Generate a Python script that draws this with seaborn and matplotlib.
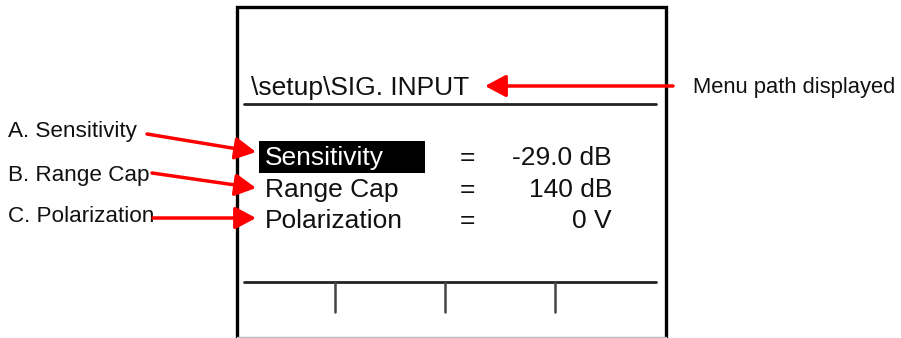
import matplotlib
matplotlib.use("Agg")
import matplotlib.pyplot as plt
from matplotlib.patches import Rectangle
import seaborn as sns

# screen content
menu_path = "\\setup\\SIG. INPUT"
param_names = ["Sensitivity", "Range Cap", "Polarization"]
param_values = ["-29.0 dB", "140 dB", "0 V"]
callout_labels = ["A. Sensitivity", "B. Range Cap", "C. Polarization"]
path_label = "Menu path displayed"
softkey_count = 4

sns.set_theme(style="white")
plt.rcParams["font.family"] = ["Liberation Sans", "DejaVu Sans"]

W, H = 901, 338
fig = plt.figure(figsize=(W / 100, H / 100), dpi=100)
ax = fig.add_axes([0, 0, 1, 1])
ax.set_xlim(0, W)
ax.set_ylim(H, 0)
ax.axis("off")

RED = "#ff0000"
DARK = "#222222"
ARROW = dict(arrowstyle="-|>,head_length=0.6,head_width=0.32", color=RED, lw=2.5,
             mutation_scale=21, shrinkA=0, shrinkB=0)

# display frame (bottom edge is cut off by the image edge)
ax.plot([237, 237, 666, 666], [340, 7, 7, 340], color="black", lw=2.4,
        solid_joinstyle="miter")
ax.plot([237, 666], [337, 337], color="#bbbbbb", lw=1)

# menu path + underline
ax.text(251, 88, menu_path, fontsize=19, va="center", ha="left", color="#111111")
ax.plot([244, 656], [104, 104], color=DARK, lw=2)

# parameter rows
row_y = [158, 190, 221]
ax.add_patch(Rectangle((259, 141), 166, 32, color="black", lw=0))
for i, (name, val) in enumerate(zip(param_names, param_values)):
    col = "white" if i == 0 else "#111111"
    ax.text(265, row_y[i], name, fontsize=19, va="center", ha="left", color=col)
    ax.text(467, row_y[i], "=", fontsize=19, va="center", ha="center", color="#111111")
    ax.text(612, row_y[i], val, fontsize=19, va="center", ha="right", color="#111111")

# soft-key bar
ax.plot([244, 656], [282, 282], color=DARK, lw=2)
key_w = (665 - 225) / softkey_count
for k in range(1, softkey_count):
    x = 225 + k * key_w
    ax.plot([x, x], [282, 312], color="#444444", lw=1.8)

# callouts on the left
label_y = [132, 175, 217]
arrow_start = [(147, 134), (152, 173), (153, 218)]
arrow_end = [(256, 152), (256, 188), (256, 218)]
for lab, ly, s, e in zip(callout_labels, label_y, arrow_start, arrow_end):
    ax.text(8, ly, lab, fontsize=16.2, va="center", ha="left", color="#111111")
    ax.annotate("", xy=e, xytext=s, arrowprops=ARROW)

# menu path callout
ax.annotate("", xy=(485, 86), xytext=(673, 86), arrowprops=ARROW)
ax.text(693, 87, path_label, fontsize=15.8, va="center", ha="left", color="#111111")

fig.savefig("out.png", dpi=100)
